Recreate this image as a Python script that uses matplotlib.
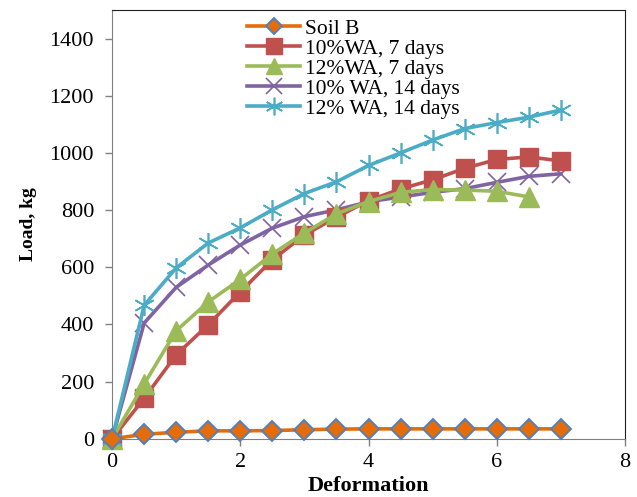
import matplotlib
matplotlib.use("Agg")
import matplotlib.pyplot as plt

plt.rcParams['font.family'] = ['Liberation Serif', 'DejaVu Serif']

# deformation steps
deformation = [0, 0.5, 1, 1.5, 2, 2.5, 3, 3.5, 4, 4.5, 5, 5.5, 6, 6.5, 7]

soil_b = [0, 16, 23, 28, 28, 29, 32, 34, 35, 35, 35, 35, 35, 35, 35]
wa10_7 = [0, 142, 294, 399, 514, 626, 713, 775, 833, 874, 906, 946, 977, 986, 972]
wa12_7 = [0, 192, 378, 479, 558, 647, 720, 787, 830, 862, 872, 870, 866, 846]
wa10_14 = [0, 405, 530, 608, 678, 737, 777, 801, 829, 846, 862, 875, 897, 918, 927]
wa12_14 = [0, 467, 598, 685, 738, 801, 858, 899, 956, 1000, 1045, 1085, 1106, 1125, 1150]

labels = ['Soil B', '10%WA, 7 days', '12%WA, 7 days', '10% WA, 14 days', '12% WA, 14 days']

fig = plt.figure(figsize=(6.37, 4.97), dpi=100)
ax = fig.add_axes([0.176, 0.117, 0.805, 0.863])

lw = 2.6
ax.plot(deformation, soil_b, color='#E46C0A', lw=lw, marker='D', ms=10,
        markerfacecolor='#E46C0A', markeredgecolor='#4F81BD', markeredgewidth=1.4,
        label=labels[0], zorder=6)
ax.plot(deformation, wa10_7, color='#C0504D', lw=lw, marker='s', ms=13,
        label=labels[1], zorder=3)
ax.plot(deformation[:len(wa12_7)], wa12_7, color='#9BBB59', lw=lw, marker='^', ms=14,
        label=labels[2], zorder=4)
ax.plot(deformation, wa10_14, color='#8064A2', lw=lw, marker='x', ms=13,
        markeredgewidth=1.2, label=labels[3], zorder=2)
ax.plot(deformation, wa12_14, color='#4BACC6', lw=lw, marker=(6, 2, 0), ms=15,
        markeredgewidth=1.2, label=labels[4], zorder=5)

ax.set_xlim(0, 8)
ax.set_ylim(0, 1500)
ax.set_xticks([0, 2, 4, 6, 8])
ax.set_yticks(range(0, 1401, 200))
ax.tick_params(axis='both', labelsize=16, direction='out', length=5, color='#808080', width=1)
ax.tick_params(axis='x', pad=5)
ax.tick_params(axis='y', pad=8)

for s in ['left', 'bottom']:
    ax.spines[s].set_color('#808080')
for s in ['top', 'right']:
    ax.spines[s].set_color('#202020')

ax.set_xlabel('Deformation', fontsize=16, fontweight='bold', labelpad=3)
ax.set_ylabel('Load, kg', fontsize=14, fontweight='bold', labelpad=9)

for line in ax.get_lines():
    line.set_clip_on(False)

leg = ax.legend(loc='upper left', bbox_to_anchor=(0.255, 0.99), frameon=False,
                fontsize=15.5, handlelength=2.45, handletextpad=0.25,
                labelspacing=0.0, borderaxespad=0.1, borderpad=0.1, markerscale=0.85)

fig.savefig('out.png', dpi=100)
